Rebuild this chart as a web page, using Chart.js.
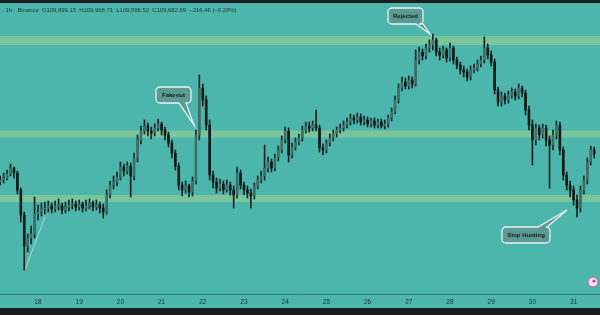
<!DOCTYPE html>
<html>
<head>
<meta charset="utf-8">
<script src="https://cdn.jsdelivr.net/npm/chart.js@4"></script>
<style>
  html, body { margin: 0; padding: 0; width: 600px; height: 315px; overflow: hidden; background: #1b1e20; }
  #wrap { position: absolute; left: 0; top: 3px; width: 600px; height: 305px; }
</style>
</head>
<body>
<div id="wrap"><canvas id="mycanvas"></canvas></div>
<script>
// BTC 2h candles, first one = 17th 02:00
var startDay = 17;
var startHour = 2;
var stepHours = 2;
var firstOpen = 109060;

var closes = [
  109100,109140,109220,109340,109240,108900,108400,107780,107940,108020,108420,108460,108520,108540,108580,
  108520,108580,108600,108500,108560,108600,108620,108560,108620,108540,108580,108640,108560,108600,108540,
  108460,108800,109000,109060,109160,109360,109280,109380,109180,109540,109900,110080,110180,110080,110040,
  110140,110220,110100,110000,109840,109640,109380,109000,108900,108980,108860,109080,110000,110940,110700,
  110200,109200,109060,108940,109020,108900,109000,108900,108800,109240,109000,108900,108840,108780,108980,
  109100,109180,109340,109460,109340,109540,109700,109900,110080,109600,109760,109860,109940,110100,110180,
  110140,110200,110140,109740,109700,109840,109940,110020,110100,110140,110200,110260,110340,110300,110360,
  110260,110300,110220,110280,110200,110260,110180,110220,110340,110460,110700,110940,111060,110980,111100,
  111020,111500,111660,111580,111740,111800,111900,111660,111600,111700,111540,111740,111500,111400,111300,
  111260,111160,111300,111340,111420,111500,111740,111600,111460,110900,110660,110780,110700,110800,110860,
  110780,110940,110840,110500,110200,109900,110140,110000,110140,109900,109800,110000,110200,109700,109200,
  109000,108900,108700,108540,108900,109100,109460,109700,109620
];
var highs = [
  109180,109240,109300,109420,109360,109280,108940,108460,108020,108180,108760,108600,108640,108660,108680,
  108640,108680,108720,108640,108660,108700,108720,108680,108700,108660,108700,108720,108680,108700,108660,
  108620,108900,109080,109180,109260,109460,109420,109460,109440,109640,110000,110180,110300,110240,110160,
  110220,110320,110260,110160,110060,109900,109700,109440,109060,109080,109020,109160,110100,111200,111020,
  110780,110300,109280,109140,109120,109080,109100,109060,108980,109360,109300,109060,108980,108920,109040,
  109180,109280,109800,109560,109520,109620,109780,109980,110160,110140,109840,109940,110020,110180,110260,
  110260,110280,110500,110200,109820,109900,110020,110100,110160,110220,110280,110340,110420,110400,110440,
  110420,110380,110360,110340,110340,110320,110320,110300,110400,110540,110780,111020,111160,111140,111180,
  111160,111700,111760,111720,111820,111900,112020,111940,111740,111780,111740,111840,111780,111560,111460,
  111380,111320,111380,111420,111500,111580,111960,111820,111680,111520,110960,110860,110840,110880,110940,
  110920,111020,110980,110900,110580,110300,110220,110200,110220,110200,109980,110100,110280,110260,109760,
  109260,109080,108980,108800,108980,109180,109540,109780,109760
];
var lows = [
  109000,109040,109100,109180,109140,108820,108260,107300,107660,107820,107940,108300,108380,108420,108460,
  108440,108460,108500,108420,108440,108480,108520,108480,108500,108460,108480,108520,108480,108500,108440,
  108340,108420,108740,108920,108980,109100,109180,109220,108760,109100,109460,109820,110020,109980,109920,
  109980,110080,110000,109900,109760,109540,109300,108900,108780,108840,108760,108780,109020,109900,110580,
  110100,109100,108940,108840,108880,108820,108860,108800,108540,108740,108920,108800,108740,108540,108720,
  108920,109040,109100,109260,109260,109280,109480,109640,109840,109460,109540,109700,109800,109880,110040,
  110060,110080,110080,109660,109600,109640,109780,109880,109960,110040,110080,110140,110200,110220,110240,
  110200,110200,110160,110160,110140,110140,110140,110120,110160,110280,110420,110640,110880,110920,110920,
  110940,110980,111420,111500,111520,111660,111700,111580,111500,111540,111460,111480,111420,111320,111220,
  111160,111080,111100,111240,111280,111360,111440,111520,111380,110820,110580,110580,110620,110640,110740,
  110700,110720,110760,110400,110100,109400,109800,109900,109940,109780,108940,109700,109920,109600,109100,
  108900,108760,108600,108360,108460,108820,109020,109400,109540
];

// support / resistance zones
var bandTops = [111980, 110090, 108800];
var bandBottoms = [111800, 109950, 108660];

// little trend line near the 18th
var trendDays = [17.684, 18.170];
var trendPrices = [107300, 108360];

var noteLabels = ['Fakeout', 'Rejected', 'Stop Hunting'];
var noteDays = [21.786, 27.515, 30.84];
var notePrices = [110200, 112020, 108500];

var headerText = '\u00b7 1h \u00b7 Binance  O109,899.15  H109,968.71  L109,598.52  C109,682.69  \u2212216.46 (\u22120.20%)';

var times = closes.map(function(c, i) { return startDay + (startHour + i * stepHours) / 24; });
var opens = closes.map(function(c, i) { return i === 0 ? firstOpen : closes[i - 1]; });

var bgColor = '#4db6ac';
var bandColor = '#7ac59c';
var upColor = '#3f6e69';
var downColor = '#0f1c1b';
var wickColor = '#152423';

// callout boxes: offset of box centre from the tip, box size, tail base (x offsets from tip)
var noteBoxes = [
  { dx: -20.5, dy: -30, w: 35, h: 16, side: 'bottom', b1: -15, b2: -8 },
  { dx: -24.5, dy: -18, w: 35, h: 16, side: 'bottom', b1: -14, b2: -7 },
  { dx: -41,   dy: 25,  w: 48, h: 16, side: 'top',    b1: -29, b2: -20 }
];

var backgroundPlugin = {
  id: 'background',
  beforeDraw: function(chart) {
    var c = chart.ctx;
    c.save();
    c.fillStyle = bgColor;
    c.fillRect(0, 0, chart.width, chart.height);
    c.restore();
  },
  beforeDatasetsDraw: function(chart) {
    var c = chart.ctx;
    var y = chart.scales.y;
    var area = chart.chartArea;
    c.save();
    c.fillStyle = bandColor;
    for (var i = 0; i < bandTops.length; i++) {
      var t = y.getPixelForValue(bandTops[i]);
      var b = y.getPixelForValue(bandBottoms[i]);
      c.fillRect(area.left, t, area.right - area.left, b - t);
    }
    c.restore();
  }
};

function bubblePath(c, l, t, R, B, r, box, tx, ty) {
  c.beginPath();
  c.moveTo(l + r, t);
  if (box.side === 'top') {
    c.lineTo(tx + box.b1, t);
    c.lineTo(tx, ty);
    c.lineTo(tx + box.b2, t);
  }
  c.lineTo(R - r, t);
  c.arcTo(R, t, R, t + r, r);
  c.lineTo(R, B - r);
  c.arcTo(R, B, R - r, B, r);
  if (box.side === 'bottom') {
    c.lineTo(tx + box.b2, B);
    c.lineTo(tx, ty);
    c.lineTo(tx + box.b1, B);
  }
  c.lineTo(l + r, B);
  c.arcTo(l, B, l, B - r, r);
  c.lineTo(l, t + r);
  c.arcTo(l, t, l + r, t, r);
  c.closePath();
}

var notesPlugin = {
  id: 'notes',
  afterDatasetsDraw: function(chart) {
    var c = chart.ctx;
    var xs = chart.scales.x, ys = chart.scales.y;
    c.save();
    for (var i = 0; i < noteLabels.length; i++) {
      var tx = xs.getPixelForValue(noteDays[i]);
      var ty = ys.getPixelForValue(notePrices[i]);
      var box = noteBoxes[i];
      var cx = tx + box.dx, cy = ty + box.dy;
      var l = cx - box.w / 2, R = cx + box.w / 2, t = cy - box.h / 2, B = cy + box.h / 2;
      bubblePath(c, l, t, R, B, 4, box, tx, ty);
      c.fillStyle = '#5c9a94';
      c.fill();
      c.lineWidth = 1.3;
      c.strokeStyle = '#e6f3f1';
      c.stroke();
      c.fillStyle = '#0e1d1c';
      c.font = 'bold 6px "Liberation Sans", Arial, sans-serif';
      c.textAlign = 'center';
      c.textBaseline = 'middle';
      c.fillText(noteLabels[i], cx, cy + 0.5);
    }
    // header line
    c.fillStyle = '#1c3331';
    c.font = '5.9px "Liberation Sans", Arial, sans-serif';
    c.textAlign = 'left';
    c.textBaseline = 'middle';
    c.fillText(headerText, 2, 7);
    // small logo badge bottom right
    c.beginPath();
    c.arc(593, 279, 5, 0, Math.PI * 2);
    c.fillStyle = '#f1e4ee';
    c.fill();
    c.lineWidth = 1;
    c.strokeStyle = '#b65a9c';
    c.stroke();
    c.beginPath();
    c.arc(594, 278, 1.6, 0, Math.PI * 2);
    c.fillStyle = '#c2407f';
    c.fill();
    c.restore();
  }
};

var ctx = document.getElementById('mycanvas');

var chart = new Chart(ctx, {
  type: 'bar',
  data: {
    datasets: [{
      label: 'Bodies',
      order: 0,
      data: times.map(function(t, i) { return { x: t, y: [opens[i], closes[i]] }; }),
      backgroundColor: function(c) {
        var i = c.dataIndex;
        return closes[i] >= opens[i] ? upColor : downColor;
      },
      borderWidth: 0,
      barThickness: 2,
      grouped: false
    }, {
      label: 'Wicks',
      order: 1,
      data: times.map(function(t, i) { return { x: t, y: [lows[i], highs[i]] }; }),
      backgroundColor: wickColor,
      borderWidth: 0,
      barThickness: 1,
      grouped: false
    }, {
      type: 'line',
      label: 'Trend',
      order: 2,
      data: trendDays.map(function(d, i) { return { x: d, y: trendPrices[i] }; }),
      borderColor: 'rgba(205,228,222,0.75)',
      borderWidth: 1,
      pointRadius: 0
    }]
  },
  options: {
    responsive: true,
    maintainAspectRatio: false,
    animation: false,
    devicePixelRatio: 1,
    layout: { padding: 0 },
    plugins: { legend: { display: false }, tooltip: { enabled: false } },
    scales: {
      x: {
        type: 'linear',
        min: 17.078,
        max: 31.641,
        offset: false,
        grid: { display: false, drawTicks: false },
        border: { display: true, color: 'rgba(38,90,85,0.6)', width: 1 },
        ticks: {
          stepSize: 1,
          includeBounds: false,
          autoSkip: false,
          maxRotation: 0,
          padding: 4,
          color: '#1c3532',
          font: { size: 6.5, family: '"Liberation Sans", Arial, sans-serif' },
          callback: function(v) { return Number.isInteger(v) ? String(v) : ''; }
        },
        afterFit: function(scale) { scale.height = 14; }
      },
      y: {
        display: false,
        min: 106820,
        max: 112640
      }
    }
  },
  plugins: [backgroundPlugin, notesPlugin]
});
</script>
</body>
</html>
